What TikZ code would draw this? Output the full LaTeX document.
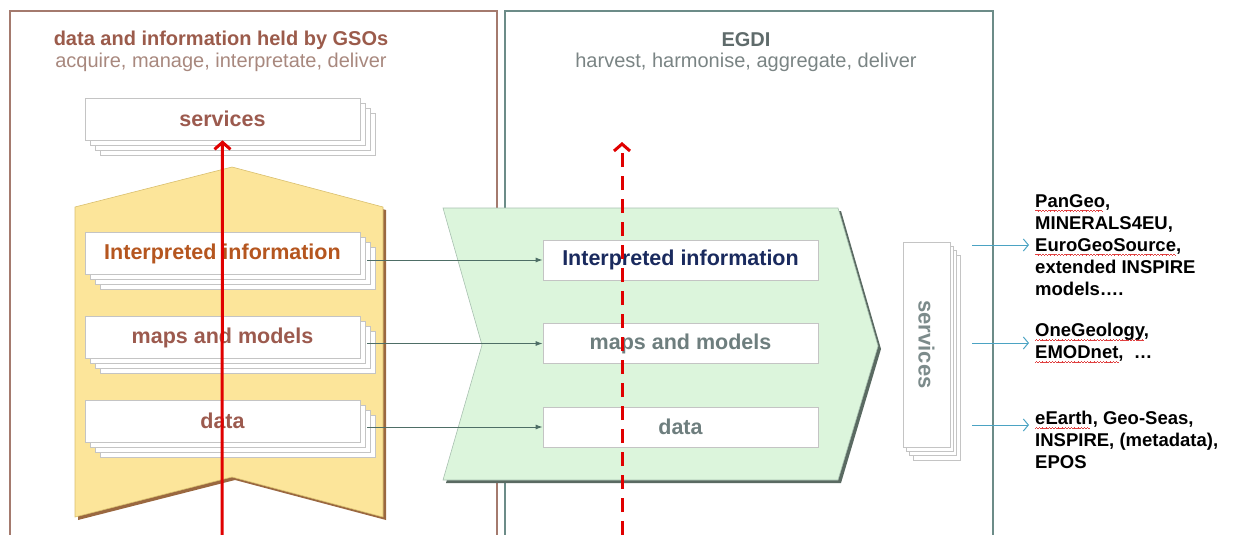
\documentclass[tikz,border=0pt]{standalone}
\usepackage{fontspec}
\setmainfont{Liberation Sans}
\usetikzlibrary{arrows.meta,positioning,shadows}
\definecolor{gsoFrame}{HTML}{A47A6E}
\definecolor{gsoTitle}{HTML}{9B5B4B}
\definecolor{gsoSub}{HTML}{A8887E}
\definecolor{gsoText}{HTML}{9C5A4E}
\definecolor{gsoOrange}{HTML}{B5561F}
\definecolor{gsoYellow}{HTML}{FCE59A}
\definecolor{gsoEdge}{HTML}{D9BF6E}
\definecolor{gsoShadow}{HTML}{9A6840}
\definecolor{egdiFrame}{HTML}{6C8C88}
\definecolor{egdiTitle}{HTML}{5F6B6B}
\definecolor{egdiSub}{HTML}{7A8484}
\definecolor{egdiNavy}{HTML}{1A2A5E}
\definecolor{egdiGray}{HTML}{6E7E7E}
\definecolor{egdiGreen}{HTML}{DCF5DC}
\definecolor{egdiEdge}{HTML}{A8C0B0}
\definecolor{egdiShadow}{HTML}{5A6A62}
\definecolor{boxLine}{HTML}{C4C4C4}
\definecolor{linkGray}{HTML}{4E6E66}
\definecolor{outBlue}{HTML}{4BA3C3}
\definecolor{flowRed}{HTML}{E00000}
\definecolor{spellRed}{HTML}{E04040}
% wavy spell-check underline made of tiny rules
\newcommand\wavebit{\rule[-3.6pt]{0.8pt}{0.6pt}\rule[-3.1pt]{0.8pt}{0.6pt}\rule[-3.6pt]{0.8pt}{0.6pt}\rule[-4.1pt]{0.8pt}{0.6pt}}
\newcommand\spellmark[1]{\setbox0\hbox{#1}\rlap{\textcolor{spellRed}{\leaders\hbox{\wavebit}\hskip\wd0}}#1}

\begin{document}
\begin{tikzpicture}[x=1pt, y=-1pt,
    every node/.style={inner sep=0pt},
    frame/.style={line width=1.6pt},
    stack/.style={draw=boxLine, fill=white, line width=0.7pt, minimum width=275pt, minimum height=42pt,
      font=\fontsize{21.5}{24}\selectfont\bfseries,
      copy shadow={shadow xshift=15pt, shadow yshift=-15pt, draw=boxLine, fill=white},
      copy shadow={shadow xshift=10pt, shadow yshift=-10pt, draw=boxLine, fill=white},
      copy shadow={shadow xshift=5pt, shadow yshift=-5pt, draw=boxLine, fill=white}},
    vstack/.style={draw=boxLine, fill=white, line width=0.7pt, minimum width=47pt, minimum height=205pt,
      font=\fontsize{22}{24}\selectfont\bfseries, text=egdiGray!90,
      copy shadow={shadow xshift=10pt, shadow yshift=-13pt, draw=boxLine, fill=white},
      copy shadow={shadow xshift=6.6pt, shadow yshift=-8.6pt, draw=boxLine, fill=white},
      copy shadow={shadow xshift=3.3pt, shadow yshift=-4.3pt, draw=boxLine, fill=white}},
    egdibox/.style={draw=boxLine, fill=white, line width=0.7pt, minimum width=275pt, minimum height=40pt,
      font=\fontsize{21.5}{24}\selectfont\bfseries},
    title/.style={font=\fontsize{20}{22}\selectfont\bfseries},
    subtitle/.style={font=\fontsize{20}{22}\selectfont},
    outtext/.style={anchor=west, align=left, font=\fontsize{18.5}{22}\selectfont\bfseries},
    link/.style={-{Latex[length=7pt,width=5pt]}, line width=1pt, color=linkGray},
    outlink/.style={-{Straight Barb[length=5pt,width=12pt]}, line width=1pt, color=outBlue},
    flow/.style={-{Straight Barb[length=7pt,width=16pt]}, line width=3pt, color=flowRed}
  ]
    \useasboundingbox (0,0) rectangle (1236,535);

    % panels
    \draw[frame, gsoFrame] (10,535) -- (10,11) -- (497,11) -- (497,535);
    \draw[frame, egdiFrame] (505,535) -- (505,11) -- (993,11) -- (993,535);

    \node[title, text=gsoTitle] (gsotitle) at (221,40) {data and information held by GSOs};
    \node[subtitle, text=gsoSub] (gsosub) at (221,62) {acquire, manage, interpretate, deliver};
    \node[title, text=egdiTitle] (egdititle) at (746,40) {EGDI};
    \node[subtitle, text=egdiSub] (egdisub) at (746,62) {harvest, harmonise, aggregate, deliver};

    % yellow chevron (GSOs)
    \fill[gsoShadow, shift={(3,3)}] (75,207) -- (232,167) -- (383,207) -- (383,517) -- (232,477) -- (75,517) -- cycle;
    \filldraw[fill=gsoYellow, draw=gsoEdge, line width=0.6pt] (75,207) -- (232,167) -- (383,207) -- (383,517) -- (232,477) -- (75,517) -- cycle;

    % green chevron (EGDI)
    \fill[egdiShadow, shift={(3,3)}] (443,208) -- (838,208) -- (878,346) -- (838,480) -- (443,480) -- (482,345) -- cycle;
    \filldraw[fill=egdiGreen, draw=egdiEdge, line width=0.6pt] (443,208) -- (838,208) -- (878,346) -- (838,480) -- (443,480) -- (482,345) -- cycle;

    % GSO stacks
    \node[stack, text=gsoText] (gservices) at (222.5,119) {services};
    \node[stack, text=gsoOrange] (ginterp) at (222.5,253.5) {Interpreted information};
    \node[stack, text=gsoText] (gmaps) at (222.5,337.5) {maps and models};
    \node[stack, text=gsoText] (gdata) at (222.5,421) {data};

    % EGDI boxes
    \node[egdibox, text=egdiNavy] (einterp) at (680.5,260) {Interpreted information};
    \node[egdibox, text=egdiGray] (emaps) at (680.5,343.5) {maps and models};
    \node[egdibox, text=egdiGray] (edata) at (680.5,427) {data};

    \draw[link, shorten <=7pt] (ginterp.east |- einterp.west) -- (einterp.west);
    \draw[link, shorten <=7pt] (gmaps.east |- emaps.west) -- (emaps.west);
    \draw[link, shorten <=7pt] (gdata.east |- edata.west) -- (edata.west);

    % delivered services
    \node[vstack] (eservices) at (926.5,344.5) {\rotatebox{-90}{services}};

    \node[outtext] (pangeo) at (1035,245) {\spellmark{PanGeo},\\MINERALS4EU,\\\spellmark{EuroGeoSource},\\extended INSPIRE\\models\dots.};
    \node[outtext] (onegeo) at (1035,343) {\spellmark{OneGeology},\\\spellmark{EMODnet},\ \ \dots};
    \node[outtext] (eearth) at (1035,440) {\spellmark{eEarth}, Geo-Seas,\\INSPIRE, (metadata),\\EPOS};

    \draw[outlink, shorten <=22pt, shorten >=6pt] (eservices.east |- pangeo.west) -- (pangeo.west);
    \draw[outlink, shorten <=22pt, shorten >=6pt] (eservices.east |- onegeo.west) -- (onegeo.west);
    \coordinate (eearthin) at ([yshift=15pt]eearth.west);
    \draw[outlink, shorten <=22pt, shorten >=6pt] (eservices.east |- eearthin) -- (eearthin);

    % flows upwards
    \coordinate (gsobase) at (222,535);
    \coordinate (egdibase) at (622,535);
    \coordinate (egditop) at (622,142);
    \draw[flow] (gsobase) -- (gservices.south);
    \draw[flow, dash pattern=on 14pt off 9pt] (egdibase) -- (egditop);
\end{tikzpicture}
\end{document}
